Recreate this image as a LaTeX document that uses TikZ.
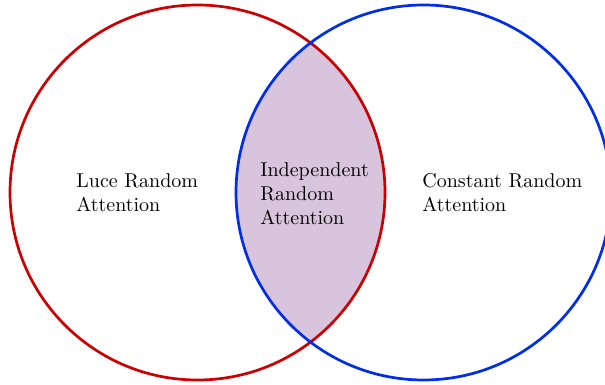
\documentclass[tikz,border=0pt]{standalone}
\definecolor{cred}{RGB}{204,0,0}
\definecolor{cblue}{RGB}{0,45,230}
\definecolor{cfill}{RGB}{216,196,220}
\tikzset{
  setring/.style={line width=2.7pt},
  setlabel/.style={align=left, anchor=west, inner sep=0pt, scale=2, font=\normalsize}
}
\begin{document}
\begin{tikzpicture}[x=1pt,y=-1pt]
\useasboundingbox (0,0) rectangle (605,385);
\coordinate (cl) at (197.5,192.5);
\coordinate (cr) at (423.5,192.5);
\begin{scope}
  \clip (cl) circle[radius=187.5];
  \fill[cfill] (cr) circle[radius=187.5];
\end{scope}
\draw[setring, cred] (cl) circle[radius=187.5];
\draw[setring, cblue] (cr) circle[radius=187.5];
\node[setlabel] (luce) at (76,193) {Luce Random\\Attention};
\node[setlabel] (indep) at (260,193.5) {Independent\\Random\\Attention};
\node[setlabel] (const) at (422,193) {Constant Random\\Attention};
\end{tikzpicture}
\end{document}
